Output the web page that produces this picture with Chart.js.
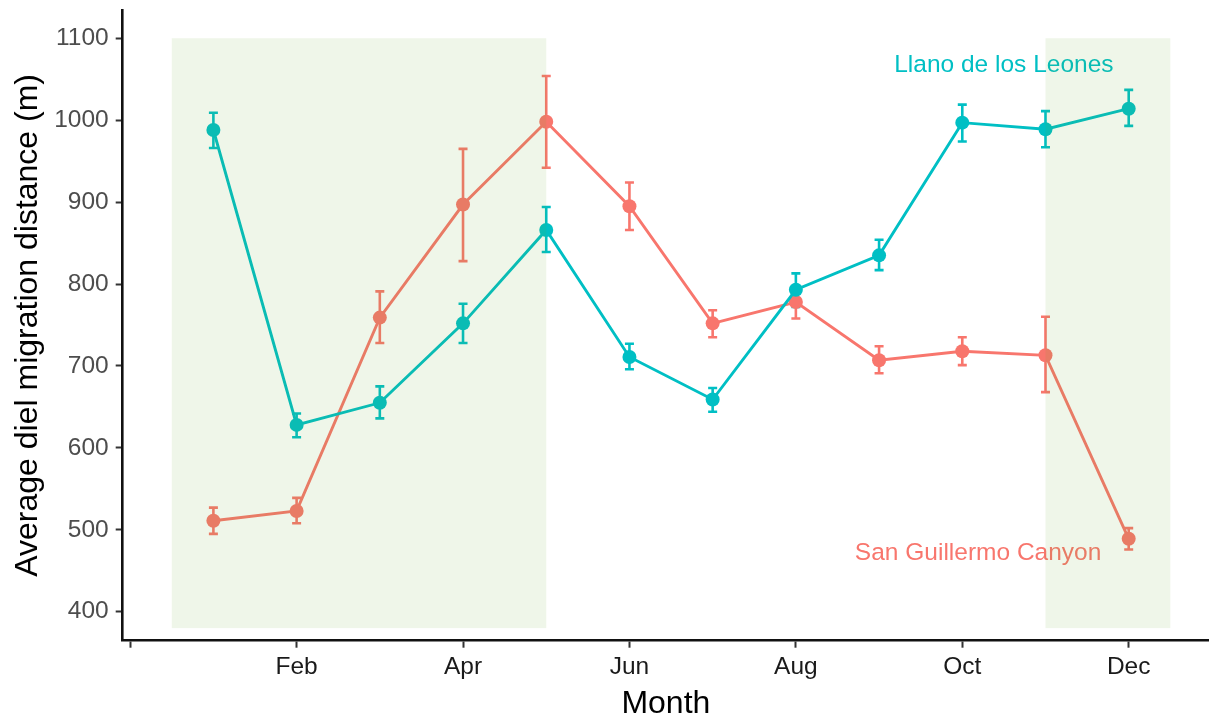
<!DOCTYPE html>
<html>
<head>
<meta charset="utf-8">
<script src="https://cdn.jsdelivr.net/npm/chart.js@4.4.1/dist/chart.umd.min.js"></script>
<style>
  html, body { margin: 0; padding: 0; background: #fff; }
  canvas { display: block; }
</style>
</head>
<body>
<canvas id="dielChart" width="1209" height="717"></canvas>
<script>
// month index: Jan = 1 ... Dec = 12
var months = [1, 2, 3, 4, 5, 6, 7, 8, 9, 10, 11, 12];

var llanoMean = [988, 628, 655, 752, 866, 711, 659, 793, 835, 997, 989, 1014];
var llanoLow  = [966, 613, 636, 728, 839, 696, 644, 772, 817, 974, 967, 993];
var llanoHigh = [1009, 642, 675, 776, 894, 727, 673, 813, 854, 1019, 1011, 1037];

var sanMean = [511, 523, 759, 897, 998, 895, 752, 778, 707, 718, 713, 489];
var sanLow  = [495, 508, 728, 828, 942, 866, 735, 758, 691, 701, 668, 476];
var sanHigh = [527, 539, 791, 965, 1054, 924, 768, 796, 724, 735, 760, 502];

var xTicks = [0, 2, 4, 6, 8, 10, 12];
var xTickLabels = ['', 'Feb', 'Apr', 'Jun', 'Aug', 'Oct', 'Dec'];
var yTicks = [400, 500, 600, 700, 800, 900, 1000, 1100];

// shaded seasons, in month units, and their vertical extent
var shadeStart = [0.5, 11];
var shadeEnd = [5, 12.5];
var shadeBottom = 380;
var shadeTop = 1100;

var tealColor = '#00BFC4';
var redColor = '#F8766D';
var fontFamily = "'Liberation Sans', Arial, sans-serif";

var errorBarPlugin = {
  id: 'errorBars',
  beforeDatasetsDraw: function (chart) {
    var ctx = chart.ctx;
    var xs = chart.scales.x, ys = chart.scales.y;
    var sets = [[sanLow, sanHigh, redColor], [llanoLow, llanoHigh, tealColor]];
    ctx.save();
    ctx.lineWidth = 2.6;
    sets.forEach(function (s) {
      ctx.strokeStyle = s[2];
      months.forEach(function (m, i) {
        var px = xs.getPixelForValue(m);
        var lo = ys.getPixelForValue(s[0][i]);
        var hi = ys.getPixelForValue(s[1][i]);
        ctx.beginPath();
        ctx.moveTo(px, lo); ctx.lineTo(px, hi);
        ctx.moveTo(px - 4.5, lo); ctx.lineTo(px + 4.5, lo);
        ctx.moveTo(px - 4.5, hi); ctx.lineTo(px + 4.5, hi);
        ctx.stroke();
      });
    });
    ctx.restore();
  },
  afterDatasetsDraw: function (chart) {
    var ctx = chart.ctx;
    var xs = chart.scales.x, ys = chart.scales.y;
    ctx.save();
    // site labels
    ctx.font = '24.5px ' + fontFamily;
    ctx.textAlign = 'center';
    ctx.textBaseline = 'alphabetic';
    ctx.fillStyle = tealColor;
    ctx.fillText('Llano de los Leones', xs.getPixelForValue(10.5), ys.getPixelForValue(1059));
    ctx.fillStyle = redColor;
    ctx.fillText('San Guillermo Canyon', xs.getPixelForValue(10.19), ys.getPixelForValue(463));
    // translucent season rectangles on top
    ctx.fillStyle = 'rgba(100,170,40,0.1)';
    shadeStart.forEach(function (s, i) {
      var x0 = xs.getPixelForValue(s), x1 = xs.getPixelForValue(shadeEnd[i]);
      var y0 = ys.getPixelForValue(shadeTop), y1 = ys.getPixelForValue(shadeBottom);
      ctx.fillRect(x0, y0, x1 - x0, y1 - y0);
    });
    ctx.restore();
  }
};

var ctx = document.getElementById('dielChart');
var dielChart = new Chart(ctx, {
  type: 'line',
  data: {
    labels: months,
    datasets: [{
      label: 'Llano de los Leones',
      data: months.map(function (m, i) { return { x: m, y: llanoMean[i] }; }),
      borderColor: tealColor,
      backgroundColor: tealColor,
      borderWidth: 2.9,
      pointRadius: 7,
      pointBorderWidth: 0,
      tension: 0
    }, {
      label: 'San Guillermo Canyon',
      data: months.map(function (m, i) { return { x: m, y: sanMean[i] }; }),
      borderColor: redColor,
      backgroundColor: redColor,
      borderWidth: 2.9,
      pointRadius: 7,
      pointBorderWidth: 0,
      tension: 0
    }]
  },
  options: {
    responsive: false,
    animation: false,
    layout: { autoPadding: false, padding: { top: 10, right: 0, bottom: 0, left: 0 } },
    plugins: {
      legend: { display: false },
      tooltip: { enabled: false }
    },
    scales: {
      x: {
        type: 'linear',
        min: -0.09,
        max: 12.965,
        afterBuildTicks: function (scale) {
          scale.ticks = xTicks.map(function (v) { return { value: v }; });
        },
        afterFit: function (scale) {
          scale.height = 76.3;
          scale.paddingLeft = 0;
          scale.paddingRight = 0;
        },
        grid: { display: true, drawOnChartArea: false, tickLength: 7, tickColor: '#333333', tickWidth: 2 },
        border: { display: true, color: '#111111', width: 2.6 },
        ticks: {
          padding: 5,
          color: '#1A1A1A',
          font: { family: fontFamily, size: 24.5 },
          maxRotation: 0,
          autoSkip: false,
          callback: function (v) {
            var k = xTicks.indexOf(v);
            return k >= 0 ? xTickLabels[k] : '';
          }
        },
        title: {
          display: true,
          text: 'Month',
          color: '#000000',
          font: { family: fontFamily, size: 32, lineHeight: 0.8 },
          padding: { top: 0, bottom: 0 }
        }
      },
      y: {
        min: 364.6,
        max: 1134.5,
        afterBuildTicks: function (scale) {
          scale.ticks = yTicks.map(function (v) { return { value: v }; });
        },
        afterFit: function (scale) {
          scale.width = 122.7;
          scale.paddingTop = 0;
          scale.paddingBottom = 0;
        },
        grid: { display: true, drawOnChartArea: false, tickLength: 7, tickColor: '#333333', tickWidth: 2 },
        border: { display: true, color: '#111111', width: 2.6 },
        ticks: {
          padding: 7,
          color: '#4D4D4D',
          font: { family: fontFamily, size: 24.5 },
          callback: function (v) { return String(v); }
        },
        title: {
          display: true,
          text: 'Average diel migration distance (m)',
          color: '#000000',
          font: { family: fontFamily, size: 32, lineHeight: 1.2 },
          padding: { top: 9, bottom: 0 }
        }
      }
    }
  },
  plugins: [errorBarPlugin]
});
</script>
</body>
</html>
